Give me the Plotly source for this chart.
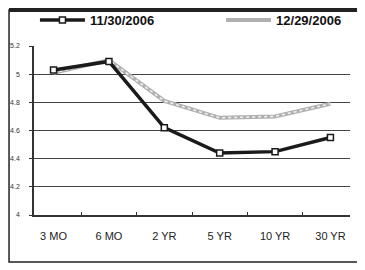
import plotly.graph_objects as go

categories = ["3 MO", "6 MO", "2 YR", "5 YR", "10 YR", "30 YR"]
nov_2006 = [5.03, 5.09, 4.62, 4.44, 4.45, 4.55]
dec_2006 = [5.01, 5.10, 4.81, 4.69, 4.70, 4.79]
y_ticks = [4, 4.2, 4.4, 4.6, 4.8, 5, 5.2]
y_tick_labels = ["4", "4.2", "4.4", "4.6", "4.8", "5", "5.2"]

fig = go.Figure()
fig.add_trace(go.Scatter(
    x=categories, y=dec_2006, name="12/29/2006", mode="lines", legend="legend2",
    line=dict(color="#b0b0b0", width=4),
))
fig.add_trace(go.Scatter(
    x=categories, y=dec_2006, name="inner", mode="lines", showlegend=False,
    line=dict(color="#f2f2f2", width=1.5, dash="dot"), hoverinfo="skip",
))
fig.add_trace(go.Scatter(
    x=categories, y=nov_2006, name="11/30/2006", mode="lines+markers", legend="legend",
    line=dict(color="#1a1a1a", width=3.5),
    marker=dict(symbol="square", size=6, color="white", line=dict(color="#1a1a1a", width=1.5)),
))

fig.update_layout(
    width=357, height=262,
    margin=dict(l=26, r=15, t=38, b=55, autoexpand=False),
    paper_bgcolor="white", plot_bgcolor="white",
    font=dict(family="Liberation Sans, Arial, sans-serif", color="#222"),
    showlegend=True,
    legend=dict(x=0.003, xanchor="left", y=1.154, yanchor="middle",
                font=dict(size=13, color="#111", weight="bold"), itemwidth=45,
                bgcolor="rgba(0,0,0,0)"),
    legend2=dict(x=0.592, xanchor="left", y=1.154, yanchor="middle",
                 font=dict(size=13, color="#111", weight="bold"), itemwidth=45,
                 bgcolor="rgba(0,0,0,0)"),
    xaxis=dict(type="category", showgrid=False, showline=True, linecolor="#333", linewidth=1.5,
               ticks="inside", ticklen=3, tickson="boundaries", tickcolor="#333",
               tickfont=dict(size=11, color="#222"), ticklabelstandoff=10),
    yaxis=dict(range=[4, 5.2], tickvals=y_ticks, ticktext=y_tick_labels,
               showgrid=True, gridcolor="#444", gridwidth=1,
               showline=True, linecolor="#333", linewidth=1.5,
               ticks="outside", ticklen=3, tickcolor="#333", ticklabelstandoff=8,
               tickfont=dict(size=7, color="#333"), zeroline=False),
    shapes=[
        dict(type="rect", xref="paper", yref="paper", x0=-0.079, x1=1.032, y0=-0.278, y1=1.213,
             line=dict(color="#222", width=1.5), fillcolor="rgba(0,0,0,0)", layer="below"),
        dict(type="line", xref="paper", yref="paper", x0=-0.079, x1=1.032, y0=1.213, y1=1.213,
             line=dict(color="#222", width=4)),
    ],
)

fig.write_html("out.html")
